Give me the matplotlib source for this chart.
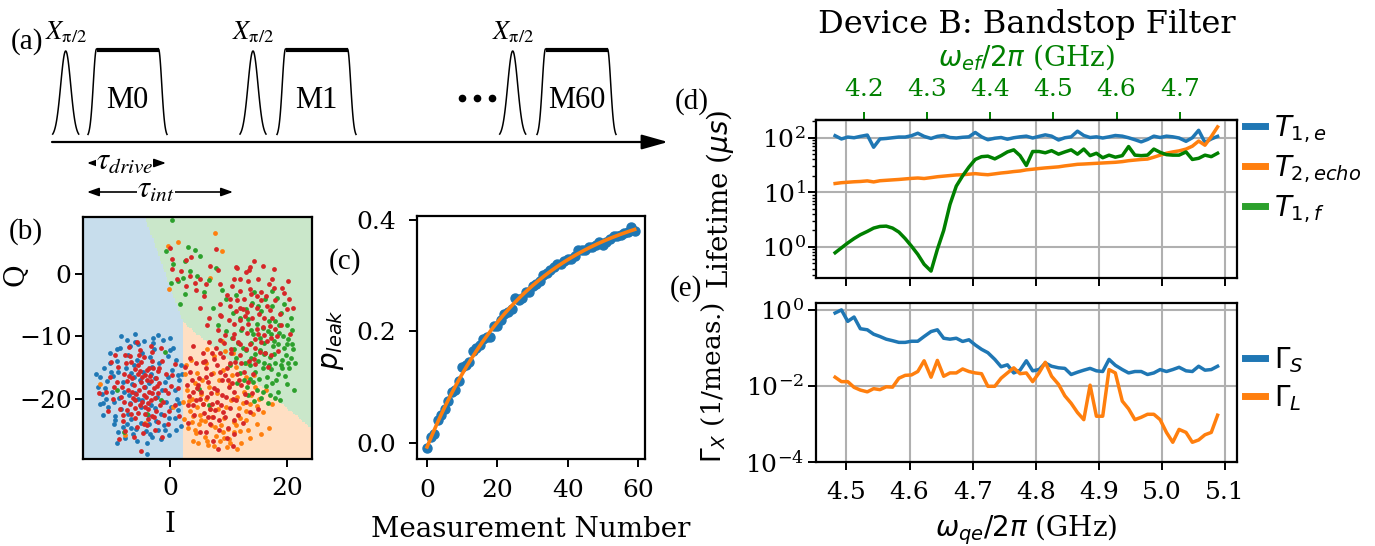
import numpy as np
import matplotlib
matplotlib.use("Agg")
import matplotlib.pyplot as plt
from matplotlib.colors import ListedColormap
from matplotlib.lines import Line2D
from matplotlib.ticker import MultipleLocator

# ---------------------------------------------------------------- data
# (c) leakage population after each measurement
MEAS_NUM = list(range(60))
P_LEAK = [-0.010, 0.010, 0.015, 0.040, 0.050, 0.060, 0.075, 0.090, 0.095, 0.110,
          0.135, 0.140, 0.145, 0.165, 0.170, 0.175, 0.185, 0.190, 0.190, 0.210,
          0.210, 0.220, 0.230, 0.235, 0.240, 0.260, 0.255, 0.260, 0.270, 0.270,
          0.280, 0.285, 0.290, 0.300, 0.305, 0.310, 0.315, 0.320, 0.320, 0.325,
          0.330, 0.330, 0.335, 0.345, 0.345, 0.345, 0.350, 0.350, 0.355, 0.360,
          0.355, 0.360, 0.365, 0.370, 0.370, 0.372, 0.375, 0.378, 0.387, 0.380]

# (d), (e) qubit frequency sweep
FREQ_QE = [4.482, 4.492, 4.502, 4.512, 4.522, 4.533, 4.543, 4.553, 4.563, 4.573,
           4.583, 4.593, 4.603, 4.613, 4.623, 4.634, 4.644, 4.654, 4.664, 4.674,
           4.684, 4.694, 4.704, 4.714, 4.724, 4.735, 4.745, 4.755, 4.765, 4.775,
           4.785, 4.795, 4.805, 4.815, 4.825, 4.836, 4.846, 4.856, 4.866, 4.876,
           4.886, 4.896, 4.906, 4.916, 4.926, 4.937, 4.947, 4.957, 4.967, 4.977,
           4.987, 4.997, 5.007, 5.017, 5.027, 5.038, 5.048, 5.058, 5.068, 5.078,
           5.088]
T1_E = [109, 95, 103, 100, 106, 112, 67, 95, 97, 100,
        103, 103, 109, 121, 106, 97, 106, 110, 101, 99,
        102, 104, 125, 104, 92, 98, 101, 94, 100, 104,
        107, 99, 106, 113, 107, 91, 100, 104, 132, 110,
        101, 104, 99, 104, 110, 107, 100, 92, 84, 93,
        107, 101, 107, 104, 99, 86, 100, 137, 82, 95,
        106]
T2_ECHO = [14.5, 15.0, 15.3, 15.6, 15.8, 16.2, 15.5, 16.3, 16.6, 16.9,
           17.2, 17.6, 18.0, 18.3, 17.9, 18.6, 19.3, 19.8, 20.3, 20.8,
           21.0, 21.5, 22.0, 21.4, 21.0, 21.8, 22.6, 23.2, 24.0, 24.6,
           25.8, 26.5, 27.3, 28.0, 28.6, 29.3, 30.5, 31.5, 32.6, 33.0,
           33.5, 34.0, 34.5, 35.0, 35.5, 36.5, 38.0, 39.0, 40.0, 40.7,
           44.0, 48.0, 52.0, 55.0, 57.5, 62.0, 70.0, 87.0, 73.0, 105.0,
           158.0]
T1_F = [0.78, 0.96, 1.18, 1.42, 1.67, 1.92, 2.21, 2.37, 2.40, 2.21,
        1.87, 1.42, 1.03, 0.73, 0.48, 0.36, 0.90, 2.0, 6.0, 13.0,
        20.0, 29.0, 40.0, 45.0, 46.0, 41.0, 47.0, 55.0, 60.0, 47.0,
        31.0, 56.0, 56.0, 53.0, 58.0, 50.0, 55.0, 60.0, 50.0, 62.0,
        47.0, 52.0, 43.0, 48.0, 44.0, 47.0, 69.0, 48.0, 47.0, 48.0,
        62.0, 54.0, 49.0, 48.0, 48.0, 55.0, 40.0, 42.0, 48.0, 45.0,
        52.0]
GAMMA_S = [0.83, 1.0, 0.5, 0.65, 0.32, 0.30, 0.23, 0.20, 0.17, 0.155,
           0.14, 0.14, 0.15, 0.15, 0.20, 0.27, 0.30, 0.18, 0.17, 0.18,
           0.148, 0.164, 0.12, 0.092, 0.075, 0.05, 0.032, 0.036, 0.022, 0.026,
           0.046, 0.025, 0.027, 0.04, 0.033, 0.03, 0.029, 0.02, 0.023, 0.026,
           0.029, 0.025, 0.024, 0.05, 0.035, 0.027, 0.022, 0.024, 0.024, 0.02,
           0.022, 0.027, 0.024, 0.027, 0.031, 0.025, 0.024, 0.033, 0.026, 0.027,
           0.033]
GAMMA_L = [0.017, 0.013, 0.013, 0.0092, 0.0078, 0.007, 0.0085, 0.008, 0.0095, 0.0093,
           0.016, 0.019, 0.0195, 0.024, 0.046, 0.017, 0.047, 0.018, 0.022, 0.022,
           0.028, 0.024, 0.022, 0.021, 0.0098, 0.0098, 0.016, 0.022, 0.030, 0.021,
           0.022, 0.013, 0.022, 0.042, 0.018, 0.011, 0.0055, 0.0035, 0.002, 0.0013,
           0.0105, 0.0016, 0.0016, 0.027, 0.022, 0.004, 0.0025, 0.0013, 0.0015, 0.0018,
           0.0018, 0.0013, 0.0006, 0.00033, 0.00072, 0.0006, 0.00033, 0.00038, 0.00052, 0.0006,
           0.0017]
ANHARMONICITY = 0.328          # omega_qe - omega_ef in GHz
EF_TICKS = [4.2, 4.3, 4.4, 4.5, 4.6, 4.7]

# (b) single-shot readout in the IQ plane
IQ_G = [(-4.3, -18.0), (-6.1, -16.4), (-2.2, -19.7), (-5.0, -21.3), (-3.1, -14.9), (-7.8, -18.8), (-0.9, -17.2), (-4.8, -12.6), (-8.9, -15.7), (-1.5, -22.4),
        (-6.7, -23.1), (0.4, -15.3), (-3.6, -24.0), (-9.6, -20.4), (-10.8, -17.1), (1.2, -19.9), (-5.7, -13.8), (-2.7, -12.0), (-7.2, -12.9), (0.9, -23.0),
        (-9.3, -22.7), (-11.6, -19.2), (-4.1, -25.1), (-0.3, -13.1), (-8.1, -24.4), (1.6, -17.0), (-6.3, -25.5), (-2.0, -25.0), (-10.2, -14.3), (-5.4, -11.2),
        (-3.9, -27.0), (1.8, -24.3), (-11.9, -16.4), (-8.6, -11.8), (-1.2, -10.6), (0.2, -21.2), (-6.9, -20.6), (-3.2, -20.9), (-7.5, -15.1), (-4.6, -15.6),
        (-9.9, -18.9), (-2.6, -16.7), (-5.9, -19.0), (-1.8, -14.2), (-8.3, -21.6), (0.8, -18.6), (-6.5, -17.6), (-3.8, -22.6), (-10.5, -21.3), (-0.6, -20.4),
        (-7.1, -22.3), (-4.9, -23.8), (-2.4, -23.5), (-9.1, -13.9), (-6.2, -14.6), (-3.4, -13.3), (-8.0, -17.2), (-5.2, -17.0), (-11.2, -15.0), (1.4, -21.8),
        (-7.7, -26.2), (-5.6, -26.7), (-1.0, -24.2), (0.6, -11.8), (-2.9, -11.1), (-9.7, -16.3), (-10.9, -20.0), (-4.4, -10.8), (-6.8, -11.5), (1.9, -14.6),
        (-12.3, -18.0), (-8.8, -25.3), (-3.0, -26.0), (-0.1, -25.7), (-7.4, -10.6), (-11.5, -22.5), (-9.5, -24.0), (2.0, -16.0), (-5.8, -24.8), (-1.6, -26.4),
        (-8.4, -9.9), (-2.1, -9.8), (-12.0, -20.8), (-10.3, -12.6), (0.0, -10.2), (-6.0, -9.6), (1.0, -25.0), (-4.0, -28.7), (-12.6, -16.0), (-9.0, -27.0),
        (-3.5, -17.4), (-5.5, -19.9), (-7.0, -19.4), (-1.4, -18.5), (-4.7, -20.1), (-6.6, -15.9), (-2.5, -21.4), (-8.7, -19.8), (-0.4, -16.5), (-3.3, -16.0),
        (-10.0, -15.6), (-11.4, -20.6), (-9.3, -23.4), (-6.6, -24.6), (-3.4, -25.5), (-0.2, -23.0), (1.5, -20.6), (1.3, -16.2), (0.0, -12.2), (-2.9, -10.2),
        (-6.0, -10.9), (-9.0, -12.0), (-11.1, -18.2), (-7.3, -24.0), (1.0, -13.8), (-0.8, -25.0)]
IQ_E = [(8.0, -19.0), (5.6, -20.8), (10.3, -17.6), (7.1, -22.9), (4.2, -17.4), (11.8, -21.4), (9.0, -15.4), (6.2, -14.3), (3.4, -21.9), (12.6, -18.9),
        (8.7, -24.2), (5.0, -24.0), (10.9, -23.6), (13.7, -20.7), (2.9, -18.6), (7.6, -13.1), (11.2, -14.9), (4.7, -15.8), (9.6, -21.2), (6.6, -18.1),
        (13.0, -23.4), (14.6, -18.0), (3.1, -24.6), (7.9, -25.8), (10.1, -26.3), (5.9, -26.0), (12.0, -25.1), (14.1, -22.4), (4.0, -22.7), (9.4, -12.3),
        (2.6, -16.0), (15.2, -20.0), (6.9, -21.6), (8.4, -17.0), (5.3, -19.2), (11.5, -19.6), (3.8, -19.9), (10.6, -16.1), (7.3, -15.9), (12.9, -16.5),
        (6.0, -23.5), (9.2, -23.0), (4.4, -25.4), (11.0, -25.2), (13.4, -24.9), (8.2, -21.6), (14.4, -16.2), (2.4, -23.2), (6.4, -12.0), (3.6, -13.8),
        (7.5, -27.5), (4.2, -24.9), (15.8, -22.0), (12.2, -27.0), (16.4, -18.6), (9.8, -27.6), (5.4, -17.0), (13.1, -14.2), (2.2, -20.4), (8.9, -10.8),
        (0.6, -21.2), (-4.3, -23.8), (-7.7, -25.7), (-12.0, -17.6), (-0.3, 4.4), (7.7, 6.5), (8.8, 3.6), (1.4, 5.1), (-0.1, -2.4), (6.8, -0.6),
        (10.4, -20.1), (6.1, -19.9), (7.7, -24.5), (9.9, -24.8), (11.9, -23.0), (5.1, -22.5), (3.3, -20.3), (12.4, -20.6), (14.9, -24.0), (4.8, -27.0),
        (16.9, -24.6), (15.5, -25.6), (6.5, -27.3), (11.4, -28.0), (3.9, -26.7), (10.8, -12.6), (2.8, -14.6), (17.5, -20.8), (9.3, -26.2), (13.7, -26.2),
        (5.3, -23.3), (7.0, -24.2), (9.0, -25.3), (11.2, -24.2), (12.9, -21.9), (3.7, -23.6), (6.3, -26.6), (10.2, -27.0), (13.9, -19.4), (14.8, -21.1),
        (4.6, -21.3), (8.6, -26.7)]
IQ_F = [(16.0, -11.0), (14.2, -9.6), (17.8, -12.8), (15.1, -13.9), (18.6, -9.4), (13.0, -12.2), (16.9, -7.5), (19.4, -11.9), (14.6, -15.7), (17.3, -15.2),
        (12.2, -9.0), (15.6, -6.0), (19.9, -8.1), (13.6, -16.8), (18.1, -17.0), (11.3, -13.4), (20.6, -13.4), (16.4, -17.9), (14.9, -18.6), (12.0, -15.8),
        (18.9, -14.6), (20.2, -10.4), (17.5, -5.2), (14.0, -4.6), (11.6, -11.0), (16.7, -9.2), (15.3, -12.1), (13.3, -7.2), (19.0, -6.2), (17.1, -19.4),
        (21.0, -12.0), (10.6, -10.2), (13.8, -11.0), (17.7, -10.7), (15.8, -15.0), (19.6, -16.3), (12.8, -14.2), (16.2, -4.0), (18.3, -3.8), (14.4, -2.9),
        (20.9, -9.0), (11.9, -7.0), (10.2, -14.6), (21.1, -18.5), (18.5, -18.8), (15.5, -19.8), (13.2, -18.0), (17.0, -13.3), (19.3, -10.0), (14.8, -8.0),
        (16.6, -16.4), (20.4, -15.0), (12.5, -11.8), (15.9, -8.6), (18.0, -7.6), (13.9, -13.5), (17.9, -14.2), (19.8, -12.9), (16.3, -12.6), (14.5, -12.8),
        (21.3, -14.3), (10.9, -12.0), (12.9, -5.6), (15.0, -5.2), (17.4, -2.8), (19.5, -4.9), (20.7, -7.0), (13.4, -19.3), (11.5, -17.4), (18.8, -20.2),
        (16.8, -20.6), (14.3, -20.3), (9.6, -9.1), (19.1, -13.8), (17.6, -11.6), (15.4, -10.3), (18.4, -16.0), (13.7, -14.6), (16.1, -14.3), (20.0, -11.2),
        (17.2, -9.6), (18.4, -11.2), (16.0, -12.8), (19.2, -15.0), (17.4, -17.4), (15.2, -16.8), (20.1, -14.2), (18.7, -8.2), (16.9, -14.6), (14.1, -17.2),
        (19.9, -17.6), (15.9, -18.9), (12.6, -16.9), (18.0, -19.8), (20.8, -11.2), (13.8, -9.0),
        (0.3, 8.6), (-0.6, 3.7), (0.6, 1.5), (2.6, 2.0), (4.2, 3.8), (5.1, 2.8), (0.1, -1.5), (2.3, -0.6), (4.7, -0.3), (6.7, -1.0),
        (5.8, -2.9), (8.9, -2.6), (1.7, -4.8), (2.6, -3.2), (7.3, -5.5), (9.5, -4.0), (3.5, 0.5), (7.9, 0.9), (10.8, -6.3), (-9.1, -18.5),
        (-7.9, -25.2), (-3.9, -22.3), (-1.6, -20.2), (4.9, -18.4), (6.6, -21.0), (1.4, -1.2), (3.0, 4.3), (11.2, -3.4), (8.2, -8.2), (-0.8, -12.5)]
IQ_MEAS = [(-4.5, -18.0), (-3.2, -17.1), (-5.8, -19.2), (-2.6, -19.8), (-6.4, -16.6), (-4.0, -15.4), (-5.1, -21.0), (-1.8, -17.4), (-7.1, -18.5), (-3.7, -20.6),
           (-5.5, -14.6), (-2.1, -15.5), (-6.9, -20.7), (-4.2, -22.3), (-1.2, -20.5), (-7.8, -16.0), (-3.0, -13.9), (-5.9, -23.0), (-0.7, -16.0), (-8.3, -19.6),
           (-4.8, -16.4), (-3.5, -18.9), (-6.1, -17.8), (-2.4, -21.9), (-5.3, -12.9), (-7.5, -14.2), (-1.4, -13.9), (-8.6, -21.6), (-0.3, -19.1), (-3.9, -24.1),
           (-6.6, -22.4), (-9.1, -17.3), (-2.0, -23.6), (-4.4, -13.2), (-6.8, -13.1), (0.2, -17.9), (-8.9, -14.8), (-3.1, -22.7), (-5.6, -24.4), (-1.0, -22.6),
           (-4.1, -19.6), (-5.0, -17.2), (-3.4, -16.3), (-2.8, -18.3), (-6.0, -20.2), (-4.7, -20.4), (-2.3, -16.7), (-7.3, -17.1), (-5.2, -15.5), (-3.8, -21.5),
           (-9.8, -19.9), (-10.3, -16.5), (-7.0, -11.7), (-1.6, -11.9), (0.8, -20.9), (-8.0, -23.5), (-4.6, -25.4), (-2.6, -25.0), (-9.4, -13.0), (0.9, -14.4),
           (-6.2, -26.1), (-11.0, -18.8), (-10.6, -21.9), (1.3, -18.2), (-0.4, -23.9), (-3.3, -11.6), (-5.7, -10.9), (-1.3, -26.0), (-7.6, -25.1), (-10.1, -14.0),
           (-4.9, -28.2), (-8.7, -26.4), (1.5, -22.7), (-12.2, -19.0), (-6.5, -18.9), (-2.0, -19.0), (-4.3, -21.2), (-5.4, -16.0), (-3.6, -15.0), (-7.9, -20.4),
           (-4.0, -17.0), (-5.3, -18.6), (-3.0, -19.0), (-6.3, -19.8), (-4.9, -14.1), (-2.9, -15.0), (-6.0, -15.2), (-3.8, -23.1), (-7.4, -21.7), (-1.7, -21.0),
           (-0.9, -18.6), (-8.2, -18.1), (-5.5, -22.2), (-2.2, -17.9), (-4.5, -19.3), (-7.0, -16.3), (-3.3, -20.1), (-5.9, -21.4), (-1.9, -15.0), (-6.7, -14.0),
           (-4.2, -16.1), (-2.7, -22.8), (-8.0, -22.6), (-0.2, -21.9), (-9.6, -18.0), (-5.2, -12.2), (-3.1, -12.5), (0.4, -16.2), (-7.6, -13.0), (-4.4, -23.9),
           (8.0, -18.5), (6.5, -17.2), (9.6, -19.6), (7.2, -20.8), (5.3, -18.9), (10.6, -17.4), (8.6, -15.6), (6.1, -15.1), (4.4, -20.2), (11.3, -20.2),
           (9.0, -22.0), (5.8, -22.2), (7.5, -13.6), (10.2, -14.3), (12.2, -17.8), (3.7, -16.9), (8.3, -23.4), (11.6, -22.6), (4.5, -14.2), (6.9, -24.0),
           (9.9, -24.6), (12.6, -15.6), (3.2, -19.5), (7.8, -11.9), (10.5, -12.0), (5.6, -12.7), (13.0, -20.4), (6.3, -19.6), (8.9, -17.0), (7.6, -18.2),
           (9.4, -16.2), (5.0, -16.7), (11.0, -18.8), (8.1, -20.4), (6.8, -21.6), (4.1, -22.5), (10.3, -21.4), (12.4, -23.8), (3.5, -13.4), (7.0, -16.0),
           (2.9, -17.8), (9.7, -26.2), (5.1, -25.2), (13.4, -17.2), (11.9, -13.0), (8.5, -10.5), (6.7, -10.9), (4.0, -11.6), (2.6, -14.9), (14.0, -19.0),
           (10.9, -25.6), (7.3, -26.6), (3.1, -23.8), (13.6, -22.1), (12.0, -11.2), (9.1, -13.3), (5.7, -20.7), (8.7, -21.0), (7.4, -22.8), (10.0, -18.0),
           (6.0, -13.9), (11.4, -16.0), (4.6, -18.3), (9.3, -11.0), (10.8, -27.5), (8.2, -27.9), (15.0, -21.5), (3.0, -21.0), (6.4, -8.2), (14.6, -14.4),
           (7.0, -19.1), (8.8, -19.4), (9.9, -17.0), (6.2, -16.4), (7.7, -21.7), (5.2, -20.0), (10.8, -19.9), (9.4, -22.9), (4.8, -17.7), (8.0, -14.5),
           (6.5, -22.8), (11.8, -17.0), (3.9, -18.8), (8.4, -25.0), (12.8, -19.2), (5.6, -14.0), (9.8, -15.0), (7.1, -12.7), (4.0, -20.9), (10.9, -23.3),
           (6.1, -25.3), (11.1, -14.1), (3.4, -15.6), (8.5, -12.7),
           (14.0, -7.0), (12.4, -5.6), (15.8, -8.5), (13.1, -9.4), (16.5, -5.2), (11.0, -8.0), (14.8, -3.6), (17.4, -7.0), (12.9, -12.0), (15.5, -10.9),
           (10.3, -5.2), (13.6, -2.4), (17.9, -4.2), (11.6, -10.9), (16.2, -12.6), (9.4, -9.8), (18.3, -9.9), (14.3, -13.6), (12.0, -2.8), (15.0, -0.8),
           (16.9, -1.6), (13.8, -5.0), (11.9, -7.4), (15.2, -6.4), (13.4, -8.0), (16.0, -9.7), (14.6, -10.4), (12.6, -4.0), (10.6, -2.0), (18.8, -6.4),
           (19.5, -3.0), (13.0, 0.2), (15.9, 1.3), (17.7, 0.8), (11.2, 1.0), (9.8, -3.4), (8.7, -6.8), (19.9, -5.6), (20.2, -1.2), (14.4, 2.0),
           (12.2, -14.3), (16.8, -14.8), (10.4, -12.6), (18.5, -12.3), (14.1, -16.0), (17.2, -10.2), (13.3, -1.2), (11.4, -4.2), (15.6, -2.9), (16.4, -3.6),
           (12.8, -6.8), (14.9, -8.8), (17.0, -8.3), (10.9, -9.6), (15.3, -12.5), (19.0, -8.2), (13.7, -11.2), (8.6, -4.8), (20.5, -9.6), (17.8, -2.2),
           (13.2, -6.1), (14.8, -5.4), (16.1, -7.0), (12.3, -8.6), (15.0, -9.6), (13.9, -3.3), (17.1, -5.8), (11.2, -6.0), (14.5, -11.8), (16.6, -10.8),
           (12.0, -0.9), (18.0, -8.8), (15.5, -4.2), (10.1, -7.4), (17.3, -12.9), (13.5, -13.9),
           (0.0, 4.1), (0.3, 2.3), (2.8, 2.2), (3.6, 2.6), (4.2, -1.4), (6.2, -1.6), (7.9, 4.0), (8.2, 0.6), (11.5, 0.9), (0.3, 0.8),
           (1.2, -0.9), (2.8, -2.0), (3.4, -0.4), (5.1, -0.8), (5.8, -3.6), (8.5, -1.6), (10.2, -4.0), (11.9, -5.5), (1.8, 0.4), (4.4, -2.6),
           (6.8, 1.3), (5.1, -5.5), (6.7, -7.1), (8.5, -6.6), (8.2, -9.0), (10.7, -10.3), (13.7, 1.0), (10.9, -0.8), (13.5, 0.6), (17.5, -0.8),
           (19.2, -2.2), (21.0, -5.4), (20.4, -4.0)]
STATE_CENTROIDS = [(-3.9, -17.6), (8.1, -17.6), (13.2, -11.0)]
I_RANGE = (-14.9, 24.2)
Q_RANGE = (-29.5, 9.1)

# (a) pulse sequence layout (schematic units)
PI2_CENTERS = [65.7, 253.0, 512.7]
MEAS_STARTS = [88.0, 277.0, 537.0]
MEAS_NAMES = ["M0", "M1", "M60"]
MEAS_WIDTH = 79.0

# ---------------------------------------------------------------- style
plt.rcParams.update({
    "font.family": "DejaVu Serif",
    "font.size": 18,
    "axes.labelsize": 20,
    "xtick.labelsize": 18,
    "ytick.labelsize": 18,
    "legend.fontsize": 20,
    "axes.linewidth": 1.6,
    "xtick.major.width": 1.4,
    "ytick.major.width": 1.4,
    "xtick.major.size": 5.5,
    "ytick.major.size": 5.5,
    "xtick.minor.width": 1.0,
    "ytick.minor.width": 1.0,
    "xtick.minor.size": 3.0,
    "ytick.minor.size": 3.0,
})

W, H = 1375.0, 546.0
fig = plt.figure(figsize=(W / 100, H / 100), dpi=100)


def add_axes_px(left, top, right, bottom, **kw):
    return fig.add_axes([left / W, 1 - bottom / H, (right - left) / W, (bottom - top) / H], **kw)


SERIF_A = "Liberation Serif"

# ---------------------------------------------------------------- (a) pulse sequence
ax_a = add_axes_px(0, 0, 680, 200)
ax_a.set_xlim(0, 680)
ax_a.set_ylim(200, 0)
ax_a.axis("off")

base_y, top_y = 137.0, 49.0
t = np.linspace(-13, 13, 120)
for c in PI2_CENTERS:
    ax_a.plot(c + t, base_y - 86.0 * np.exp(-t ** 2 / (2 * 5.0 ** 2)), color="k", lw=1.1)
    ax_a.text(c, 45, r"$X_{\mathrm{\pi/2}}$", ha="center", va="bottom", fontsize=19,
              family=SERIF_A, math_fontfamily="stix")

edge = np.linspace(0, 8.5, 40)
rise = base_y - (base_y - top_y) * np.exp(-(edge - 8.5) ** 2 / (2 * 3.2 ** 2))
for x0, name in zip(MEAS_STARTS, MEAS_NAMES):
    ax_a.plot(x0 + edge, rise, color="k", lw=1.1)
    ax_a.plot(x0 + MEAS_WIDTH - edge, rise, color="k", lw=1.1)
    ax_a.plot([x0 + 8.5, x0 + MEAS_WIDTH - 8.5], [top_y + 1, top_y + 1], color="k", lw=3.0,
              solid_capstyle="butt")
    ax_a.text(x0 + MEAS_WIDTH / 2, 101, name, ha="center", va="center", fontsize=22, family=SERIF_A)

ax_a.plot([462, 477, 492], [98, 98, 98], "o", color="k", ms=4.5)

ax_a.annotate("", xy=(668, 142), xytext=(52, 142),
              arrowprops=dict(arrowstyle="-|>,head_length=1.6,head_width=0.45", mutation_scale=10,
                              lw=1.6, color="k", shrinkA=0, shrinkB=0))
ax_a.annotate("", xy=(87, 163), xytext=(166, 163),
              arrowprops=dict(arrowstyle="<|-|>,head_length=0.7,head_width=0.25", mutation_scale=10,
                              lw=1.2, color="k", shrinkA=0, shrinkB=0))
ax_a.text(124.5, 160, r"$\tau_{drive}$", ha="center", va="center", fontsize=22,
          math_fontfamily="stix", bbox=dict(fc="white", ec="none", pad=0))
ax_a.annotate("", xy=(87, 192), xytext=(233, 192),
              arrowprops=dict(arrowstyle="<|-|>,head_length=0.7,head_width=0.25", mutation_scale=10,
                              lw=1.2, color="k", shrinkA=0, shrinkB=0))
ax_a.text(156, 189, r"$\tau_{int}$", ha="center", va="center", fontsize=22,
          math_fontfamily="stix", bbox=dict(fc="white", ec="none", pad=0))

# ---------------------------------------------------------------- (b) IQ plane
ax_b = add_axes_px(82.7, 216.7, 311.7, 458.7)
gi = np.linspace(I_RANGE[0], I_RANGE[1], 150)
gq = np.linspace(Q_RANGE[0], Q_RANGE[1], 150)
GI, GQ = np.meshgrid(gi, gq)
cent = np.array(STATE_CENTROIDS)
dist = (GI[..., None] - cent[:, 0]) ** 2 + (GQ[..., None] - cent[:, 1]) ** 2
region = np.argmin(dist, axis=-1)
ax_b.imshow(region, extent=[I_RANGE[0], I_RANGE[1], Q_RANGE[0], Q_RANGE[1]], origin="lower",
            cmap=ListedColormap(["tab:blue", "tab:orange", "tab:green"]), vmin=0, vmax=2,
            alpha=0.25, aspect="auto", interpolation="nearest")
for pts, col in [(IQ_G, "tab:blue"), (IQ_E, "tab:orange"), (IQ_F, "tab:green"), (IQ_MEAS, "tab:red")]:
    arr = np.array(pts)
    ax_b.scatter(arr[:, 0], arr[:, 1], s=12, color=col, linewidths=0)
ax_b.set_xlim(*I_RANGE)
ax_b.set_ylim(*Q_RANGE)
ax_b.set_xticks([0, 20])
ax_b.set_yticks([0, -10, -20])
ax_b.tick_params(axis="x", pad=7.5)
ax_b.tick_params(axis="y", pad=2.4)
ax_b.set_xlabel("I")
ax_b.set_ylabel("Q")
ax_b.xaxis.set_label_coords(0.381, -0.216)
ax_b.yaxis.set_label_coords(-0.234, 0.759)

# ---------------------------------------------------------------- (c) leakage vs measurement
ax_c = add_axes_px(416.7, 215.7, 645, 459.3)
n = np.array(MEAS_NUM, dtype=float)
p = np.array(P_LEAK)
best = None
for tau in np.linspace(5, 200, 800):
    X = np.column_stack([1 - np.exp(-n / tau), np.ones_like(n)])
    coef = np.linalg.lstsq(X, p, rcond=None)[0]
    err = np.sum((X @ coef - p) ** 2)
    if best is None or err < best[0]:
        best = (err, tau, coef)
_, tau_fit, (amp_fit, off_fit) = best
n_fine = np.linspace(n.min(), n.max(), 300)
ax_c.plot(n, p, "o", color="tab:blue", ms=6.5)
ax_c.plot(n_fine, amp_fit * (1 - np.exp(-n_fine / tau_fit)) + off_fit, color="tab:orange", lw=2.6)
ax_c.set_xticks([0, 20, 40, 60])
ax_c.set_yticks([0.0, 0.2, 0.4])
ax_c.tick_params(axis="x", pad=9)
ax_c.tick_params(axis="y", pad=9)
ax_c.set_xlabel("Measurement Number")
ax_c.set_ylabel(r"$p_{leak}$")
ax_c.xaxis.set_label_coords(0.5, -0.233)
ax_c.yaxis.set_label_coords(-0.31, 0.49)

# ---------------------------------------------------------------- (d), (e) frequency sweep
ax_e = add_axes_px(816, 303.3, 1236.7, 462)
ax_d = add_axes_px(816, 119.7, 1236.7, 278.3, sharex=ax_e)

ax_d.plot(FREQ_QE, T1_E, color="tab:blue", lw=2.5)
ax_d.plot(FREQ_QE, T2_ECHO, color="tab:orange", lw=2.5)
ax_d.plot(FREQ_QE, T1_F, color="green", lw=2.5)
ax_d.set_yscale("log")
ax_d.grid(True, which="major", color="#b0b0b0", lw=1.5)
ax_d.tick_params(labelbottom=False)
ax_d.tick_params(axis="y", pad=2)
ax_d.set_ylabel(r"Lifetime ($\mu s$)")
ax_d.yaxis.set_label_coords(-0.19, 0.5)
ax_d.legend([Line2D([], [], color=c, lw=5) for c in ["tab:blue", "tab:orange", "tab:green"]],
            [r"$T_{1,e}$", r"$T_{2,echo}$", r"$T_{1,f}$"],
            loc="center left", bbox_to_anchor=(1.019, 0.689), frameon=False,
            handlelength=0.72, handletextpad=0.32, labelspacing=0.3, borderaxespad=0.0, borderpad=0.0)

sec = ax_d.secondary_xaxis("top", functions=(lambda x: x - ANHARMONICITY, lambda x: x + ANHARMONICITY))
sec.set_xticks(EF_TICKS)
sec.tick_params(axis="x", colors="green", pad=7.7)
sec.set_xlabel(r"$\omega_{ef}/2\pi$ (GHz)", color="green", labelpad=9)

ax_e.plot(FREQ_QE, GAMMA_S, color="tab:blue", lw=2.5)
ax_e.plot(FREQ_QE, GAMMA_L, color="tab:orange", lw=2.5)
ax_e.set_yscale("log")
ax_e.set_ylim(bottom=1e-4)
ax_e.grid(True, which="major", color="#b0b0b0", lw=1.5)
ax_e.xaxis.set_major_locator(MultipleLocator(0.1))
ax_e.tick_params(axis="x", pad=8)
ax_e.tick_params(axis="y", pad=3)
ax_e.set_xlabel(r"$\omega_{qe}/2\pi$ (GHz)")
ax_e.set_ylabel(r"$\Gamma_X$ (1/meas.)", fontsize=19)
ax_e.xaxis.set_label_coords(0.5, -0.315)
ax_e.yaxis.set_label_coords(-0.212, 0.5)
ax_e.legend([Line2D([], [], color=c, lw=5) for c in ["tab:blue", "tab:orange"]],
            [r"$\Gamma_S$", r"$\Gamma_L$"],
            loc="center left", bbox_to_anchor=(1.019, 0.523), frameon=False,
            handlelength=0.72, handletextpad=0.32, labelspacing=0.3, borderaxespad=0.0, borderpad=0.0)

fig.text(1026.5 / W, 1 - 33 / H, "Device B: Bandstop Filter", ha="center", va="baseline", fontsize=23)

# ---------------------------------------------------------------- panel letters
for letter, (x, y) in {"(a)": (27, 42), "(b)": (26, 232), "(c)": (345, 262),
                       "(d)": (692, 102), "(e)": (686, 289)}.items():
    fig.text(x / W, 1 - y / H, letter, ha="center", va="center", fontsize=21, family=SERIF_A)

fig.savefig("out.png", dpi=100)
